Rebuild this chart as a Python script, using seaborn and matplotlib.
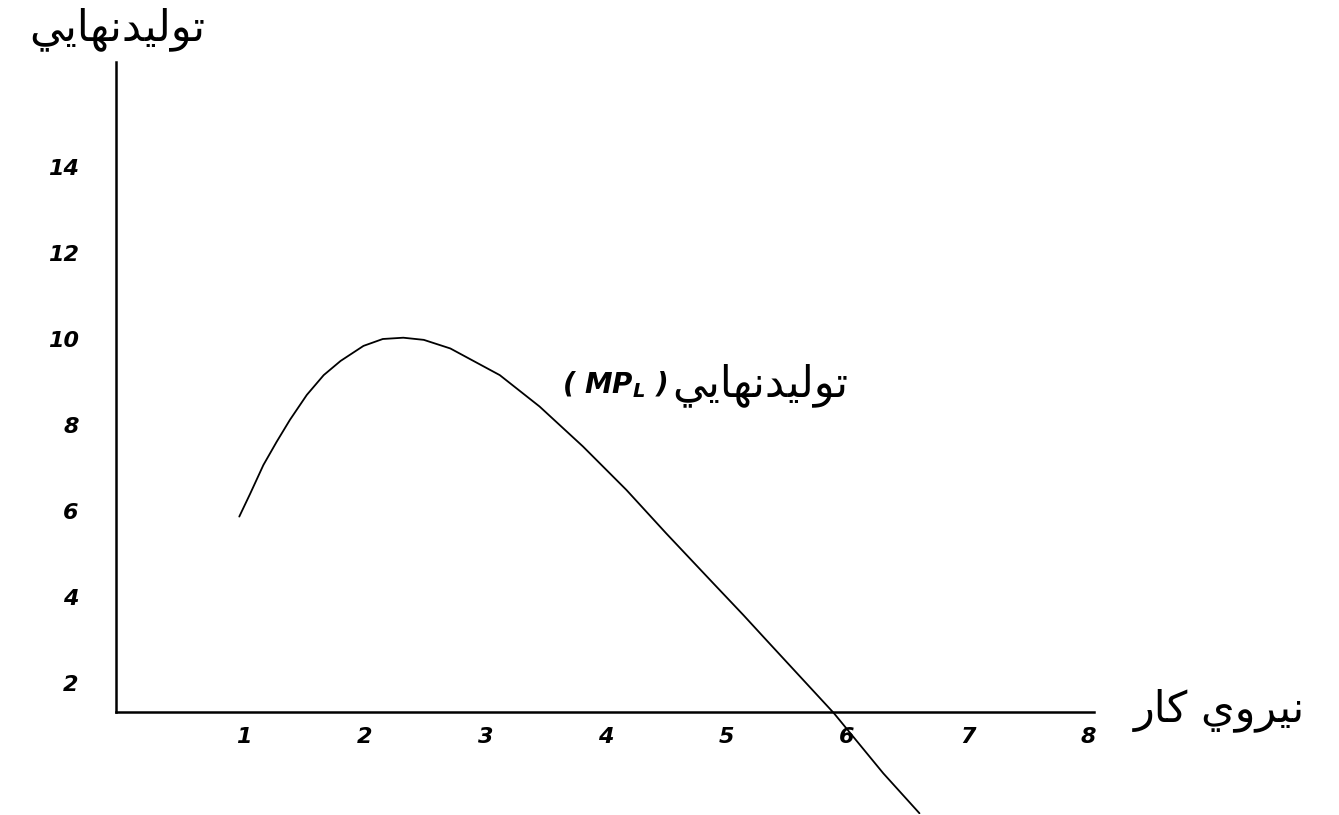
import pandas as pd
import seaborn as sns
import matplotlib.pyplot as plt

# labour units and marginal product
labour = [0.96, 1.05, 1.16, 1.27, 1.38, 1.52, 1.66, 1.80, 1.99, 2.15, 2.32,
          2.49, 2.71, 3.12, 3.45, 3.81, 4.17, 4.50, 4.89, 5.14, 5.33, 5.61,
          5.89, 6.30, 6.60]
mpl = [5.87, 6.40, 7.07, 7.61, 8.12, 8.70, 9.16, 9.49, 9.84, 10.00, 10.03,
       9.98, 9.78, 9.16, 8.43, 7.50, 6.49, 5.48, 4.32, 3.58, 3.00, 2.15,
       1.30, -0.10, -1.03]
x_ticks = [1, 2, 3, 4, 5, 6, 7, 8]
y_ticks = [2, 4, 6, 8, 10, 12, 14]
x_axis_level = 1.33

y_title = "توليدنهايي"
x_title = "نيروي کار"
curve_name = "توليدنهايي"

# contextual forms: isolated, final, initial, medial
FORMS = {
    'ت': ('\uFE95', '\uFE96', '\uFE97', '\uFE98'),
    'و': ('\uFEED', '\uFEEE', None, None),
    'ل': ('\uFEDD', '\uFEDE', '\uFEDF', '\uFEE0'),
    'ي': ('\uFEF1', '\uFEF2', '\uFEF3', '\uFEF4'),
    'د': ('\uFEA9', '\uFEAA', None, None),
    'ن': ('\uFEE5', '\uFEE6', '\uFEE7', '\uFEE8'),
    'ه': ('\uFEE9', '\uFEEA', '\uFEEB', '\uFEEC'),
    'ا': ('\uFE8D', '\uFE8E', None, None),
    'ر': ('\uFEAD', '\uFEAE', None, None),
    'ک': ('\uFB8E', '\uFB8F', '\uFB90', '\uFB91'),
}


def shape(text):
    out = []
    for i, c in enumerate(text):
        if c not in FORMS:
            out.append(c)
            continue
        prev = text[i - 1] if i > 0 else None
        nxt = text[i + 1] if i + 1 < len(text) else None
        join_prev = prev in FORMS and FORMS[prev][2] is not None
        join_next = nxt in FORMS and FORMS[c][2] is not None
        iso, fin, ini, med = FORMS[c]
        if join_prev and join_next:
            out.append(med)
        elif join_prev:
            out.append(fin)
        elif join_next:
            out.append(ini)
        else:
            out.append(iso)
    return ''.join(reversed(out))


sns.set_theme(style="white")
plt.rcParams['font.family'] = ['DejaVu Sans']
plt.rcParams['text.color'] = 'black'
plt.rcParams['xtick.color'] = 'black'
plt.rcParams['ytick.color'] = 'black'

df = pd.DataFrame({'L': labour, 'MP': mpl})

W, H = 1339, 815
fig = plt.figure(figsize=(W / 100, H / 100), dpi=100)
# pixel layout: x=0 at 123.5px, 120.6px per unit; y=0 at 769px, 43px per unit
xlim = (-0.06, 8.05)
ylim = (-1.05, 16.45)
px_left = 123.5 + xlim[0] * 120.6
px_right = 123.5 + xlim[1] * 120.6
px_top = 769 - ylim[1] * 43
px_bottom = 769 - ylim[0] * 43
ax = fig.add_axes([px_left / W, 1 - px_bottom / H,
                   (px_right - px_left) / W, (px_bottom - px_top) / H])

sns.lineplot(data=df, x='L', y='MP', ax=ax, color='black', linewidth=1.3,
             sort=False)

ax.set_xlim(*xlim)
ax.set_ylim(*ylim)
sns.despine(ax=ax)
ax.spines['bottom'].set_position(('data', x_axis_level))
ax.spines['left'].set_bounds(x_axis_level, ylim[1])
ax.spines['bottom'].set_bounds(xlim[0], xlim[1])
for s in ('left', 'bottom'):
    ax.spines[s].set_color('black')
    ax.spines[s].set_linewidth(1.8)

ax.set_xticks(x_ticks)
ax.set_yticks(y_ticks)
ax.set_xticklabels([str(v) for v in x_ticks], fontweight='heavy', style='italic', fontsize=16)
ax.set_yticklabels([str(v) for v in y_ticks], fontweight='heavy', style='italic', fontsize=16)
ax.tick_params(axis='x', length=0, pad=11)
ax.tick_params(axis='y', length=0, pad=27)
ax.set_xlabel('')
ax.set_ylabel('')

fig.text(117 / W, 1 - 29 / H, shape(y_title), fontsize=31,
         ha='center', va='center')
fig.text(1219 / W, 1 - 710 / H, shape(x_title), fontsize=31,
         ha='center', va='center')

ax.text(4.51, 8.93, r"( $\mathbfit{MP}_{\mathbfit{L}}$ )", fontsize=20,
        fontweight='heavy', style='italic', ha='right', va='center')
ax.text(4.55, 8.93, shape(curve_name), fontsize=31,
        ha='left', va='center')

fig.savefig('out.png', dpi=100, facecolor='white')
